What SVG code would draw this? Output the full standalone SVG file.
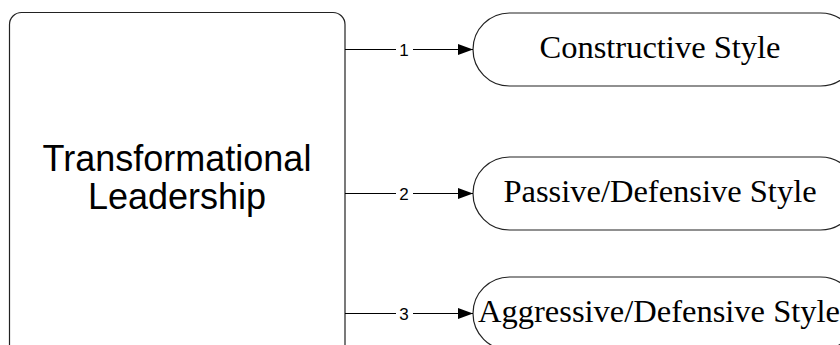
<svg xmlns="http://www.w3.org/2000/svg" width="840" height="345" viewBox="0 0 840 345">
<defs>
<style>
.shape{fill:#fff;stroke:#222;stroke-width:1.2}
.main{font-family:"Liberation Sans",Arial,sans-serif;font-size:36px;fill:#000;text-anchor:middle}
.style{font-family:"Liberation Serif","Times New Roman",serif;font-size:32.5px;fill:#000;text-anchor:middle}
.lbl{font-family:"Liberation Sans",Arial,sans-serif;font-size:17px;fill:#000;text-anchor:middle}
.conn{stroke:#000;stroke-width:1.2;fill:none}
</style>
<marker id="arr" viewBox="0 0 15 11" refX="15" refY="5.5" markerWidth="15" markerHeight="11" markerUnits="userSpaceOnUse" orient="auto">
<path d="M0,0 L15,5.5 L0,11 Z" fill="#000"/>
</marker>
</defs>
<rect width="840" height="345" fill="#fff"/>
<g id="transformational">
<rect class="shape" x="9.5" y="12.5" width="335.5" height="350" rx="12" ry="12"/>
<text class="main" x="177" y="170.5">Transformational</text>
<text class="main" x="177" y="208.5">Leadership</text>
</g>
<g id="constructive">
<rect class="shape" x="473" y="13" width="384" height="73" rx="36.5" ry="36.5"/>
<text class="style" x="660" y="58.3">Constructive Style</text>
</g>
<g id="passive">
<rect class="shape" x="473" y="157" width="384" height="73" rx="36.5" ry="36.5"/>
<text class="style" x="660" y="201.5">Passive/Defensive Style</text>
</g>
<g id="aggressive">
<rect class="shape" x="473" y="277" width="384" height="73" rx="36.5" ry="36.5"/>
<text class="style" x="659" y="321.5">Aggressive/Defensive Style</text>
</g>
<g id="connectors">
<path class="conn" d="M345,49.5 H396"/>
<path class="conn" d="M413,49.5 H473" marker-end="url(#arr)"/>
<text class="lbl" x="404" y="55.5">1</text>
<path class="conn" d="M345,193.5 H396"/>
<path class="conn" d="M413,193.5 H473" marker-end="url(#arr)"/>
<text class="lbl" x="404" y="199.5">2</text>
<path class="conn" d="M345,313.5 H396"/>
<path class="conn" d="M413,313.5 H473" marker-end="url(#arr)"/>
<text class="lbl" x="404" y="319.5">3</text>
</g>
</svg>
